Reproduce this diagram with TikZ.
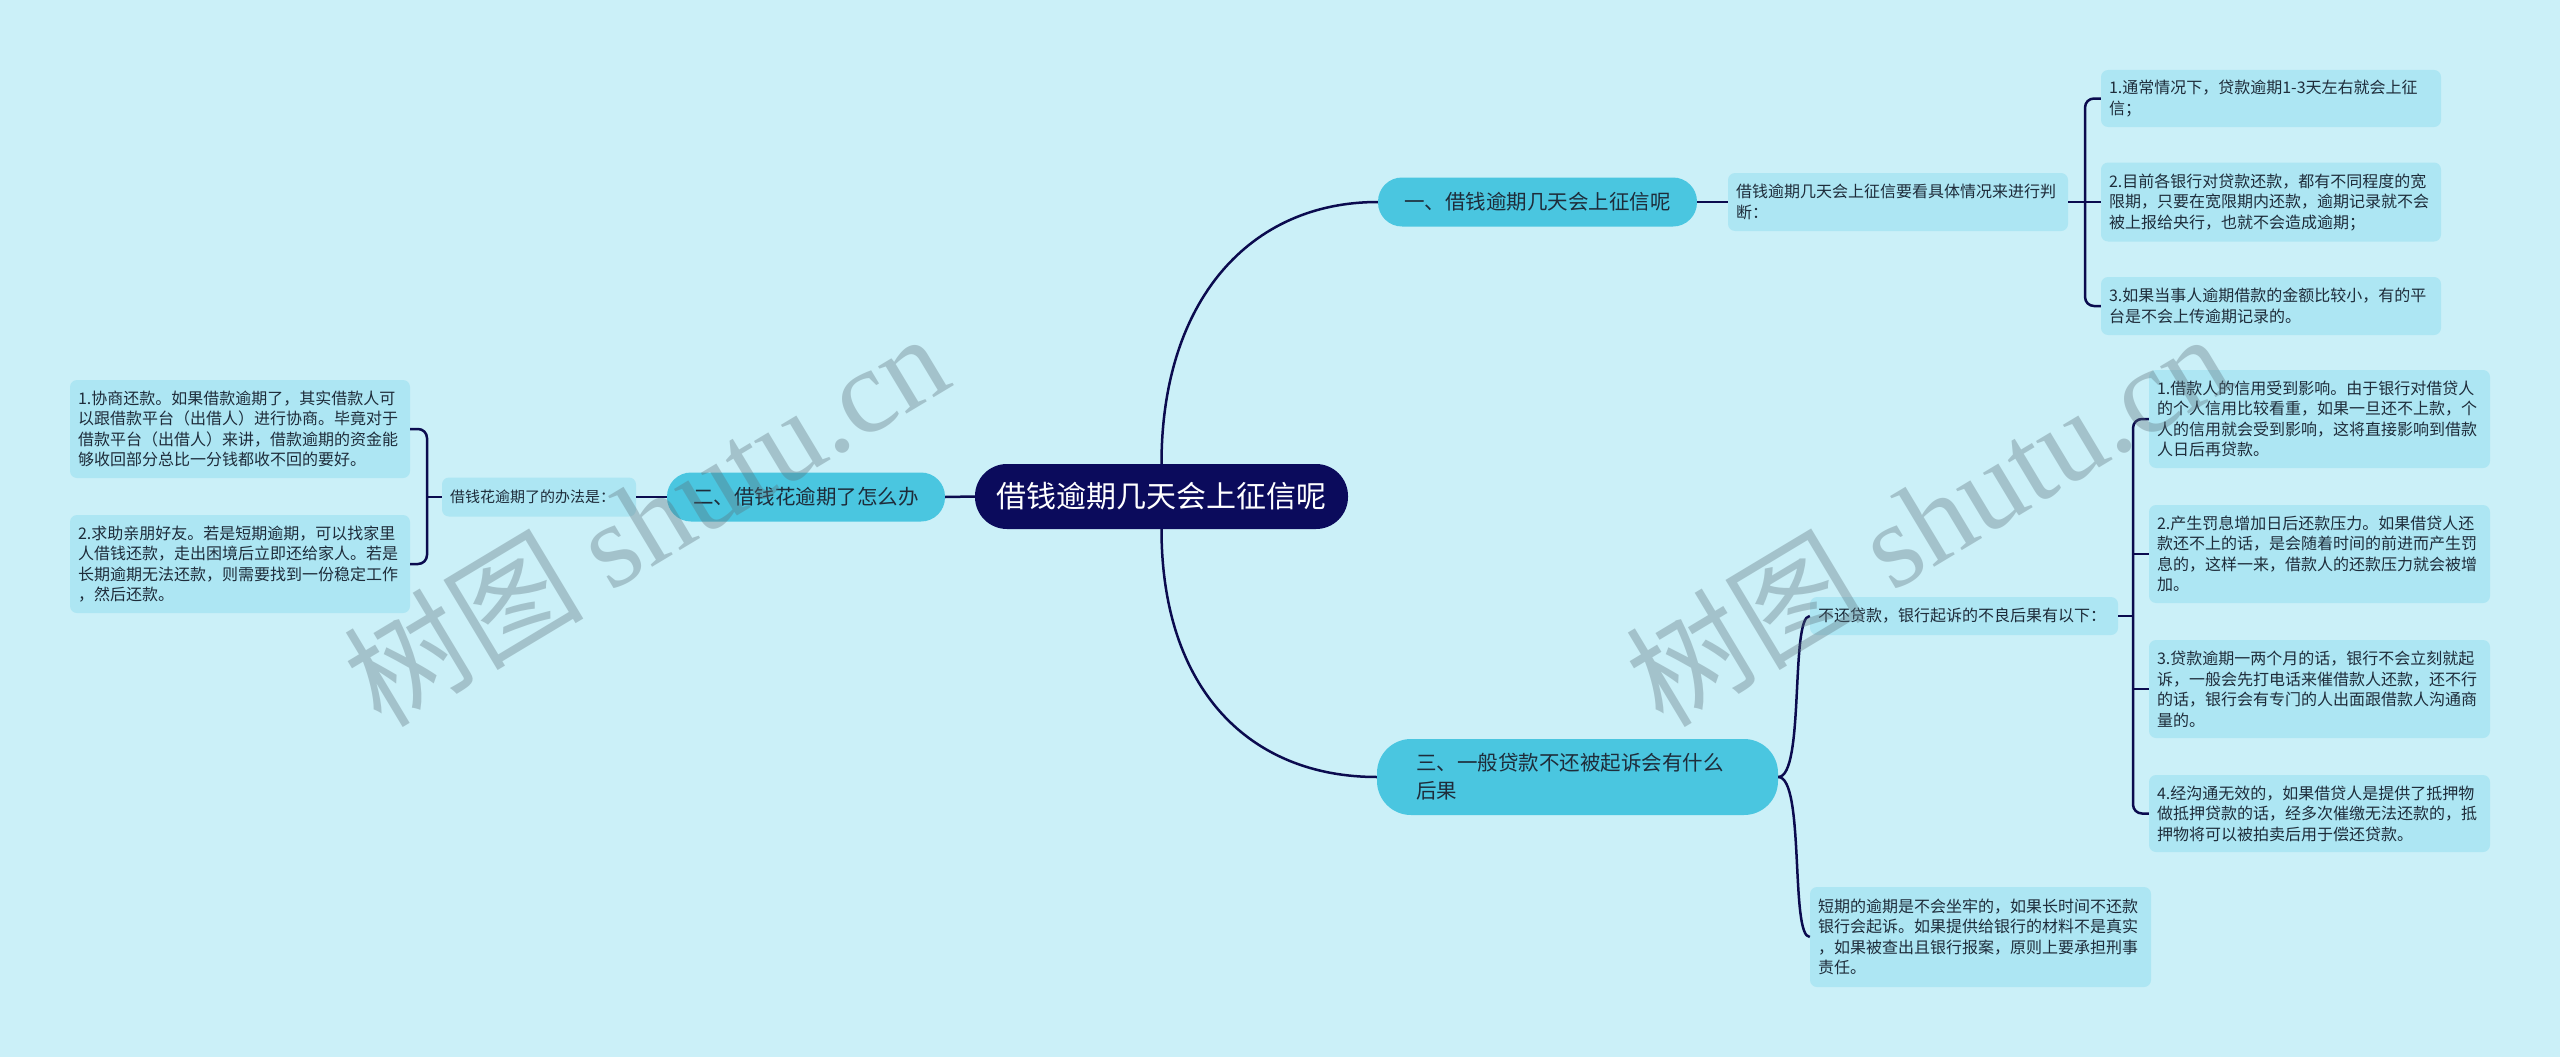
\documentclass[tikz,border=0pt]{standalone}
\usepackage{fontspec}
\setmainfont{Noto Sans CJK SC}
\newfontfamily\wmcjk{Noto Sans CJK SC}
\newfontfamily\wmlat{Liberation Serif}
\definecolor{bgc}{HTML}{CBF0F8}
\definecolor{leafc}{HTML}{ADE6F3}
\definecolor{branchc}{HTML}{4AC6E0}
\definecolor{rootc}{HTML}{0B0B5C}
\definecolor{linec}{HTML}{0B0B4F}
\definecolor{txt}{HTML}{1E2C3A}
\definecolor{wmc}{HTML}{5A6E78}
\tikzset{
  leaf/.style={fill=leafc, rounded corners=7pt, text=txt, align=left, inner xsep=8pt, inner ysep=0pt, font=\fontsize{16}{20.5}\selectfont},
  branch/.style={fill=branchc, rounded corners=24pt, text=txt, inner xsep=10pt, inner ysep=0pt, font=\fontsize{20.5}{28}\selectfont},
  rootnode/.style={fill=rootc, rounded corners=32pt, text=white, inner sep=0pt, font=\fontsize{30}{34}\selectfont},
  conn/.style={draw=linec, line width=2.5pt},
  wmark/.style={text=wmc, opacity=0.35, rotate=31, font=\fontsize{120}{130}\selectfont, inner sep=0pt}
}
\begin{document}
\begin{tikzpicture}[x=1pt, y=-1pt]
\fill[bgc] (0,0) rectangle (2560,1057);
\useasboundingbox (0,0) rectangle (2560,1057);

% root
\node[rootnode, minimum width=373pt, minimum height=65pt] (root) at (1161.5,496.5) {借钱逾期几天会上征信呢};

% branches
\node[branch, minimum width=319pt, minimum height=49pt] (b1) at (1537.5,202) {一、借钱逾期几天会上征信呢};
\node[branch, minimum width=278pt, minimum height=49pt] (b2) at (806,497) {二、借钱花逾期了怎么办};
\node[branch, text width=381pt, minimum height=76pt, align=left, inner xsep=10pt, rounded corners=34pt] (b3) at (1577.5,777) {\hspace*{29pt}三、一般贷款不还被起诉会有什么\\\hspace*{29pt}后果};

% branch 1 children
\node[leaf, text width=324pt, minimum height=58pt] (c1) at (1898,202) {借钱逾期几天会上征信要看具体情况来进行判\\断：};
\node[leaf, text width=324pt, minimum height=57pt] (L1a) at (2271,98.5) {1.通常情况下，贷款逾期1-3天左右就会上征\\信；};
\node[leaf, text width=324pt, minimum height=79pt] (L1b) at (2271,202) {2.目前各银行对贷款还款，都有不同程度的宽\\限期，只要在宽限期内还款，逾期记录就不会\\被上报给央行，也就不会造成逾期；};
\node[leaf, text width=324pt, minimum height=58pt] (L1c) at (2271,306) {3.如果当事人逾期借款的金额比较小，有的平\\台是不会上传逾期记录的。};

% branch 2 children
\node[leaf, text width=178pt, minimum height=39pt, inner xsep=8pt, font=\fontsize{15}{18}\selectfont] (c2) at (539,497) {借钱花逾期了的办法是：};
\node[leaf, text width=324pt, minimum height=98pt] (L2a) at (240,429) {1.协商还款。如果借款逾期了，其实借款人可\\以跟借款平台（出借人）进行协商。毕竟对于\\借款平台（出借人）来讲，借款逾期的资金能\\够收回部分总比一分钱都收不回的要好。};
\node[leaf, text width=324pt, minimum height=98pt] (L2b) at (240,564) {2.求助亲朋好友。若是短期逾期，可以找家里\\人借钱还款，走出困境后立即还给家人。若是\\长期逾期无法还款，则需要找到一份稳定工作\\，然后还款。};

% branch 3 children
\node[leaf, text width=292pt, minimum height=38pt] (c3a) at (1964,616) {不还贷款，银行起诉的不良后果有以下：};
\node[leaf, text width=325pt, minimum height=100pt] (c3b) at (1980.5,937) {短期的逾期是不会坐牢的，如果长时间不还款\\银行会起诉。如果提供给银行的材料不是真实\\，如果被查出且银行报案，原则上要承担刑事\\责任。};
\node[leaf, text width=325pt, minimum height=98pt] (L3a) at (2319.5,419) {1.借款人的信用受到影响。由于银行对借贷人\\的个人信用比较看重，如果一旦还不上款，个\\人的信用就会受到影响，这将直接影响到借款\\人日后再贷款。};
\node[leaf, text width=325pt, minimum height=98pt] (L3b) at (2319.5,554) {2.产生罚息增加日后还款压力。如果借贷人还\\款还不上的话，是会随着时间的前进而产生罚\\息的，这样一来，借款人的还款压力就会被增\\加。};
\node[leaf, text width=325pt, minimum height=98pt] (L3c) at (2319.5,689) {3.贷款逾期一两个月的话，银行不会立刻就起\\诉，一般会先打电话来催借款人还款，还不行\\的话，银行会有专门的人出面跟借款人沟通商\\量的。};
\node[leaf, text width=325pt, minimum height=77pt] (L3d) at (2319.5,813.5) {4.经沟通无效的，如果借贷人是提供了抵押物\\做抵押贷款的话，经多次催缴无法还款的，抵\\押物将可以被拍卖后用于偿还贷款。};

% coordinates for bracket junctions
\coordinate (v2) at (427,497);
\coordinate (v3) at (2133,616);
\coordinate (v3b) at (2133,554);
\coordinate (v3c) at (2133,689);

% root connectors
\draw[conn] (root.north) .. controls (1161.5,300) and (1250,202) .. (b1.west);
\draw[conn] (root.south) .. controls (1161.5,690) and (1250,777) .. (b3.west);
\draw[conn] (root.west) -- (b2.east);

% branch 1
\draw[conn] (b1.east) -- (c1.west);
\draw[conn] (c1.east) -- (L1b.west);
\draw[conn, rounded corners=9pt] (L1a.west) -- (2085,98.5) -- (2085,306) -- (L1c.west);

% branch 2
\draw[conn] (b2.west) -- (c2.east);
\draw[conn] (c2.west) -- (v2);
\draw[conn, rounded corners=9pt] (L2a.east) -- (427,429) -- (427,564) -- (L2b.east);

% branch 3
\draw[conn] (b3.east) .. controls (1805,777) and (1790,616) .. (c3a.west);
\draw[conn] (b3.east) .. controls (1805,777) and (1790,937) .. (c3b.west);
\draw[conn] (c3a.east) -- (v3);
\draw[conn] (v3b) -- (L3b.west);
\draw[conn] (v3c) -- (L3c.west);
\draw[conn, rounded corners=9pt] (L3a.west) -- (2133,419) -- (2133,813.5) -- (L3d.west);

% watermarks
\node[wmark] (wm1) at (645,518) {\wmcjk 树图 \wmlat shutu.cn};
\node[wmark] (wm2) at (1927,518) {\wmcjk 树图 \wmlat shutu.cn};
\end{tikzpicture}
\end{document}
